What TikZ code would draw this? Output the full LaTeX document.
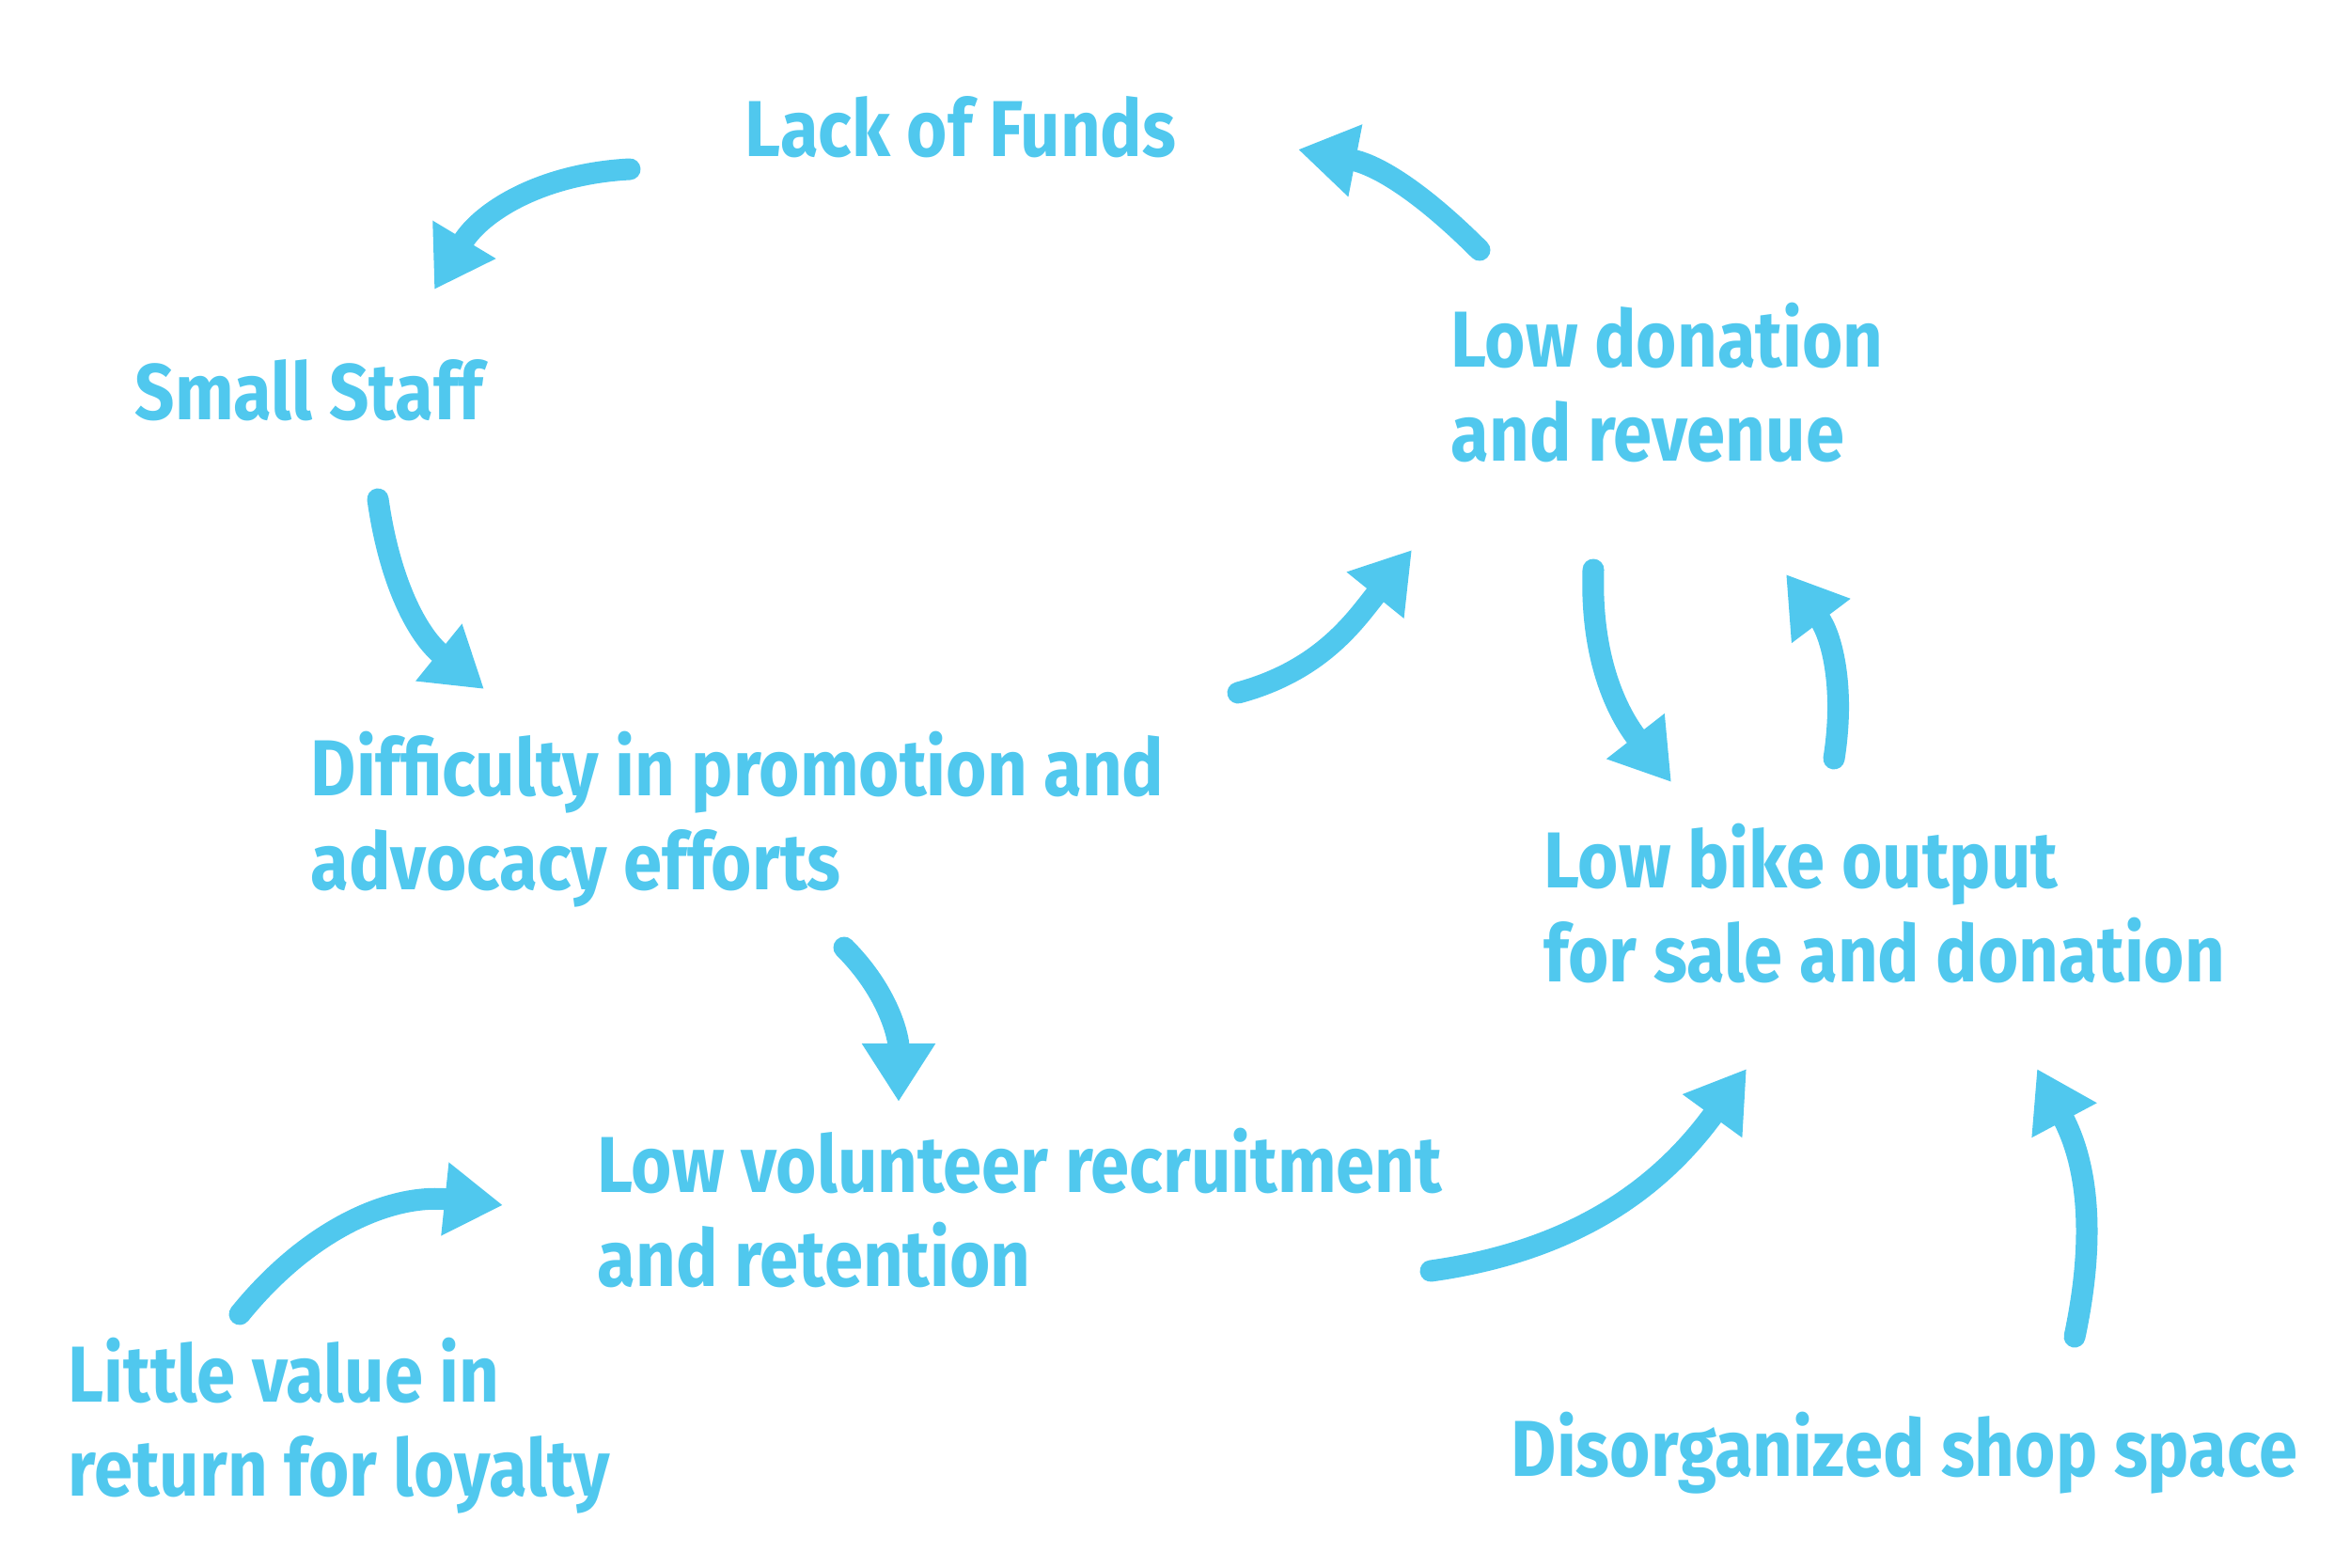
\documentclass[tikz,border=0pt]{standalone}
\usepackage{fontspec}
\setmainfont{Fira Sans}[FakeStretch=0.88]
\usepackage{tikz}
\usetikzlibrary{arrows.meta}
\definecolor{skyblue}{HTML}{50C8EE}
\tikzset{
  cause/.style={anchor=base west, inner sep=0pt, align=left, text=skyblue,
    font=\fontsize{24}{28.2}\selectfont\bfseries},
  arrow/.style={line width=0.23cm, draw=skyblue, line cap=round,
    -{Triangle[length=0.62cm, width=0.74cm]}}
}

\begin{document}
\begin{tikzpicture}
		\useasboundingbox (0,0) rectangle (25,16.67);
		% causes (multi-line ones sit on their last baseline)
		\node[cause] (funds) at (7.92,15.00) {Lack of Funds};
		\node[cause] (staff) at (1.43,12.21) {Small Staff};
		\node[cause] (donation) at (15.43,11.77) {Low donation\\and revenue};
		\node[cause] (promo) at (3.30,7.21) {Difficulty in promotion and\\advocacy efforts};
		\node[cause] (bikes) at (16.42,6.23) {Low bike output\\for sale and donation};
		\node[cause] (volunteers) at (6.35,2.99) {Low volunteer recruitment\\and retention};
		\node[cause] (loyalty) at (0.72,0.76) {Little value in\\return for loyalty};
		\node[cause] (space) at (16.07,0.97) {Disorganized shop space};
		% arrow ends
		\coordinate (s1) at (6.70,14.87);  \coordinate (e1) at (4.62,13.59);
		\coordinate (s2) at (4.02,11.36);  \coordinate (e2) at (5.15,9.34);
		\coordinate (s3) at (13.17,9.30);  \coordinate (e3) at (15.02,10.82);
		\coordinate (s4) at (15.74,14.01); \coordinate (e4) at (13.81,15.08);
		\coordinate (s5) at (8.98,6.59);   \coordinate (e5) at (9.56,4.95);
		\coordinate (s6) at (2.55,2.69);   \coordinate (e6) at (5.35,3.85);
		\coordinate (s7) at (15.22,3.15);  \coordinate (e7) at (18.58,5.30);
		\coordinate (s8) at (22.07,2.45);  \coordinate (e8) at (21.67,5.30);
		\coordinate (s9) at (16.95,10.61); \coordinate (e9) at (17.78,8.35);
		\coordinate (s10) at (19.51,8.60); \coordinate (e10) at (19.00,10.56);
		% arrows
		\draw[arrow] (s1) to[out=183, in=59] (e1);
		\draw[arrow] (s2) to[out=-82, in=141] (e2);
		\draw[arrow] (s3) to[out=15, in=-129] (e3);
		\draw[arrow] (s4) to[out=135, in=-11] (e4);
		\draw[arrow] (s5) to[out=-45, in=90] (e5);
		\draw[arrow] (s6) to[out=51, in=174] (e6);
		\draw[arrow] (s7) to[out=8, in=-126] (e7);
		\draw[arrow] (s8) to[bend right=20] (e8);
		\draw[arrow] (s9) to[out=-92, in=128] (e9);
		\draw[arrow] (s10) to[out=81, in=-53] (e10);
	\end{tikzpicture}
\end{document}
